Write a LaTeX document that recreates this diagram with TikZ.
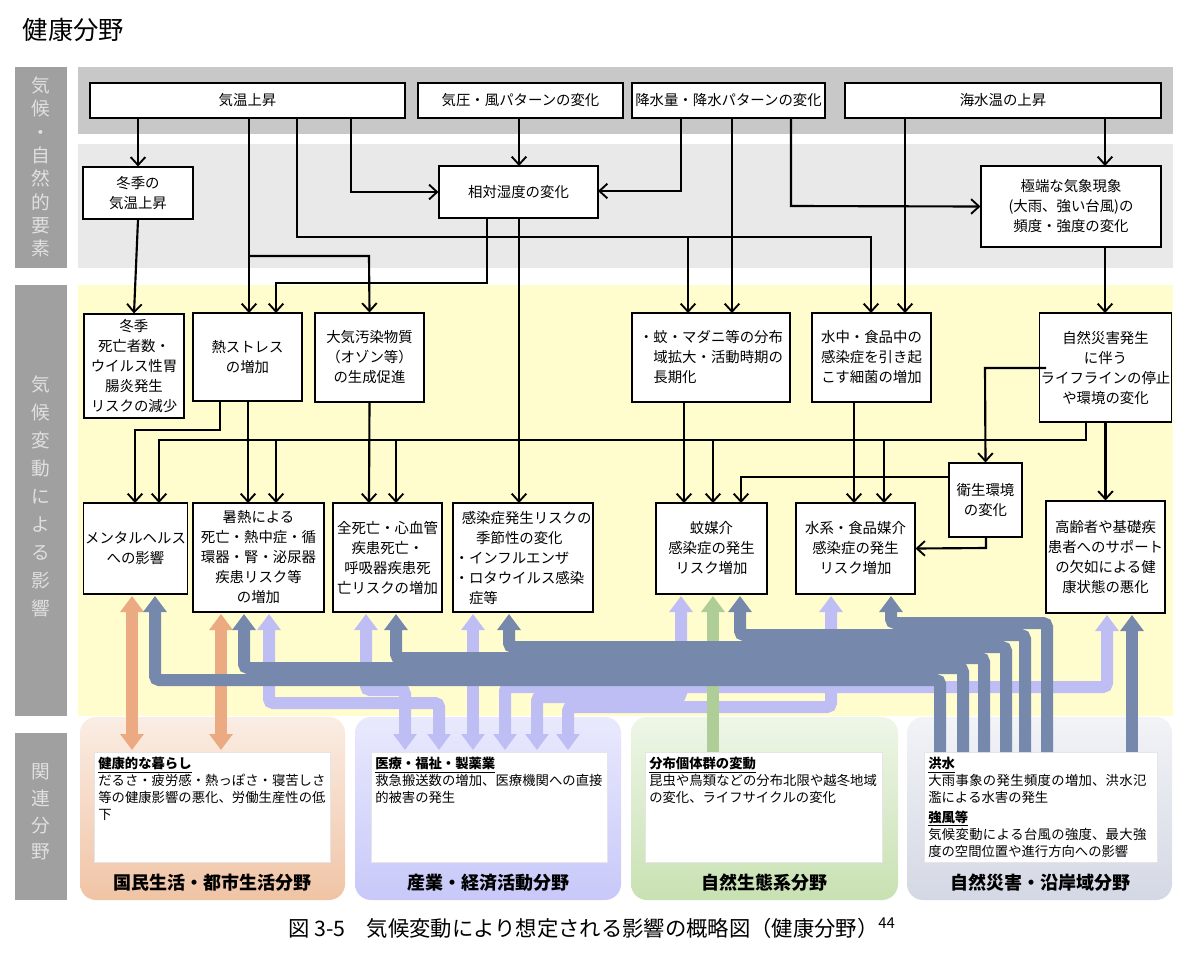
\documentclass[tikz,border=0pt]{standalone}
\usepackage{fontspec}
\setmainfont{Noto Sans CJK JP}
\XeTeXlinebreaklocale "ja"
\XeTeXlinebreakskip=0pt plus 1pt
\usetikzlibrary{arrows.meta}
\definecolor{bandA}{RGB}{200,200,200}
\definecolor{bandB}{RGB}{233,233,233}
\definecolor{bandY}{RGB}{255,252,205}
\definecolor{lab}{RGB}{160,160,160}
\definecolor{dk}{RGB}{118,136,172}
\definecolor{lt}{RGB}{190,190,245}
\definecolor{gr}{RGB}{175,205,150}
\definecolor{org}{RGB}{236,170,130}
\definecolor{pOrg}{RGB}{240,196,165}
\definecolor{pLav}{RGB}{200,200,250}
\definecolor{pGrn}{RGB}{200,225,178}
\definecolor{pGry}{RGB}{212,216,228}
\tikzset{
  bx/.style 2 args={draw, thick, fill=white, align=center, inner sep=1pt,
    minimum width=#1*0.75pt, minimum height=#2*0.75pt,
    font=\fontsize{10.8}{15}\selectfont},
  ar/.style={line width=1.6pt, -{Straight Barb[length=6pt,width=11pt,line width=1.4pt]}},
  wa/.style={line width=9pt, -{Triangle[width=17pt,length=12pt]}},
  wb/.style={line width=9pt, {Triangle[width=17pt,length=12pt]}-{Triangle[width=17pt,length=12pt]}},
  lbl/.style={text=white!88!black, align=center, font=\fontsize{14}{19}\selectfont},
  pan/.style={fill=white, draw=white!90!black},
  inner/.style={align=left, anchor=north west,
    text width=#1*0.75pt-6pt, inner sep=3pt, font=\fontsize{10}{12.8}\selectfont},
  ptitle/.style={font=\fontsize{13.5}{15}\selectfont\bfseries}
}
\begin{document}
\begin{tikzpicture}[x=0.75pt,y=-0.75pt]
\useasboundingbox (0,0) rectangle (1200,954);
% title
\node[anchor=west, font=\fontsize{19}{22}\selectfont] (ttl) at (18,30) {健康分野};
% bands
\fill[bandA] (78,67) rectangle (1173,134);
\fill[bandB] (78,144) rectangle (1173,268);
\fill[bandY] (78,285) rectangle (1173,716);
\fill[lab] (15,67) rectangle (67,268);
\fill[lab] (15,285) rectangle (67,716);
\fill[lab] (15,733) rectangle (67,900);
\node[lbl, font=\fontsize{14}{17.5}\selectfont] (l1) at (41,167) {気\\候\\・\\自\\然\\的\\要\\素};
\node[lbl, font=\fontsize{14}{21}\selectfont] (l2) at (41,496) {気\\候\\変\\動\\に\\よ\\る\\影\\響};
\node[lbl, font=\fontsize{14}{20}\selectfont] (l3) at (41,812) {関\\連\\分\\野};
% bottom panels
\shade[top color=pOrg!30, bottom color=pOrg, rounded corners=12pt] (80,717) rectangle (345,900);
\shade[top color=pLav!40, bottom color=pLav, rounded corners=12pt] (355,717) rectangle (621,900);
\shade[top color=pGrn!30, bottom color=pGrn, rounded corners=12pt] (631,717) rectangle (898,900);
\shade[top color=pGry!30, bottom color=pGry, rounded corners=12pt] (907,717) rectangle (1172,900);
\fill[pan] (94,752) rectangle (330,862);
\fill[pan] (371,752) rectangle (607,862);
\fill[pan] (645,752) rectangle (882,862);
\fill[pan] (924,752) rectangle (1157,862);
\node[inner=236] (p1) at (94,753)
  {\textbf{\underline{健康的な暮らし}}\\だるさ・疲労感・熱っぽさ・寝苦しさ等の健康影響の悪化、労働生産性の低下};
\node[inner=236] (p2) at (371,753)
  {\textbf{\underline{医療・福祉・製薬業}}\\救急搬送数の増加、医療機関への直接的被害の発生};
\node[inner=237] (p3) at (645,753)
  {\textbf{\underline{分布個体群の変動}}\\昆虫や鳥類などの分布北限や越冬地域の変化、ライフサイクルの変化};
\node[inner=233] (p4) at (924,753)
  {\textbf{\underline{洪水}}\\大雨事象の発生頻度の増加、洪水氾濫による水害の発生\\[2pt]\textbf{\underline{強風等}}\\気候変動による台風の強度、最大強度の空間位置や進行方向への影響};
\node[ptitle] (q1) at (212,883) {国民生活・都市生活分野};
\node[ptitle] (q2) at (488,883) {産業・経済活動分野};
\node[ptitle] (q3) at (764,883) {自然生態系分野};
\node[ptitle] (q4) at (1040,883) {自然災害・沿岸域分野};
% top row
\node[bx={315}{35}] (t1) at (247.5,100.5) {気温上昇};
\node[bx={205}{35}] (t2) at (520.5,100.5) {気圧・風パターンの変化};
\node[bx={193}{35}] (t3) at (728.5,100.5) {降水量・降水パターンの変化};
\node[bx={316}{35}] (t4) at (1003,100.5) {海水温の上昇};
\node[bx={110}{52}] (a) at (138,193) {冬季の\\気温上昇};
\node[bx={159}{52}] (b) at (518.5,192) {相対湿度の変化};
\node[bx={180}{81}] (c) at (1071,206.5) {極端な気象現象\\(大雨、強い台風)の\\頻度・強度の変化};
% second row
\node[bx={100}{104}] (win) at (134,366) {冬季\\死亡者数・\\ウイルス性胃\\腸炎発生\\リスクの減少};
\node[bx={109}{88}] (heat) at (247.5,357) {熱ストレス\\の増加};
\node[bx={109}{89}] (air) at (369.5,357.5) {大気汚染物質\\（オゾン等）\\の生成促進};
\node[bx={158}{89}, align=left] (mos) at (711,357.5) {・蚊・マダニ等の分布\\\hspace*{1em}域拡大・活動時期の\\\hspace*{1em}長期化};
\node[bx={119}{89}] (wat) at (871.5,357.5) {水中・食品中の\\感染症を引き起\\こす細菌の増加};
\node[bx={119}{109}] (dis) at (1105.5,367.5) {自然災害発生\\に伴う\\ライフラインの停止\\や環境の変化};
% third row
\node[bx={97}{91}] (men) at (135.5,548.5) {メンタルヘルス\\への影響};
\node[bx={131}{109}] (hot) at (258.5,557.5) {暑熱による\\死亡・熱中症・循\\環器・腎・泌尿器\\疾患リスク等\\の増加};
\node[bx={109}{109}] (dth) at (387.5,557.5) {全死亡・心血管\\疾患死亡・\\呼吸器疾患死\\亡リスクの増加};
\node[bx={140}{109}, align=left] (inf) at (523,557.5) {\hspace*{0.5em}感染症発生リスクの\\\hspace*{1.5em}季節性の変化\\・インフルエンザ\\・ロタウイルス感染\\\hspace*{1em}症等};
\node[bx={111}{91}] (mosr) at (711.5,548.5) {蚊媒介\\感染症の発生\\リスク増加};
\node[bx={119}{91}] (watr) at (855.5,548.5) {水系・食品媒介\\感染症の発生\\リスク増加};
\node[bx={73}{74}] (san) at (985.5,500) {衛生環境\\の変化};
\node[bx={119}{112}] (old) at (1105.5,557) {高齢者や基礎疾\\患者へのサポート\\の欠如による健\\康状態の悪化};
% wide arrows: light
\begin{scope}[rounded corners=3pt]
\draw[wb, lt] (366,614) -- (366,690) -- (405,690) -- (405,750);
\draw[wb, lt] (269,614) -- (269,703) -- (439,703) -- (439,750);
\draw[wb, lt] (473,614) -- (473,750);
\draw[wb, lt] (505,750) -- (505,687) -- (1107,687) -- (1107,615);
\draw[wb, lt] (537,750) -- (537,697) -- (681,697) -- (681,596);
\draw[wb, lt] (568,750) -- (568,707) -- (831,707) -- (831,596);
\draw[wa, gr] (713,752) -- (713,596);
\draw[wb, org] (132,596) -- (132,750);
\draw[wb, org] (221,614) -- (221,750);
% dark
\draw[wa, dk] (940,752) -- (940,680) -- (155,680) -- (155,596);
\draw[wa, dk] (963,752) -- (963,668) -- (244,668) -- (244,614);
\draw[wa, dk] (984,752) -- (984,658) -- (396,658) -- (396,614);
\draw[wa, dk] (1006,752) -- (1006,647) -- (509,647) -- (509,614);
\draw[wa, dk] (1025,752) -- (1025,635) -- (740,635) -- (740,596);
\draw[wa, dk] (1047,752) -- (1047,623) -- (891,623) -- (891,596);
\draw[wa, dk] (1132,752) -- (1132,615);
\end{scope}
% thin connectors
\draw[ar] (a.north |- t1.south) -- (a.north);
\draw[ar] (249,118) -- (249,313);
\draw[ar] (249,256) -- (369,256) -- (air.north);
\draw[ar] (297,118) -- (297,237) -- (871,237) -- (871,313);
\draw[ar] (688,237) -- (688,313);
\draw[ar] (351,118) -- (351,192) -- (b.west |- 0,192);
\draw[ar] (519,118) -- (519,166);
\draw[ar] (487,218) -- (487,283) -- (276,283) -- (276,313);
\draw[ar] (519,218) -- (519,503);
\draw[ar] (681,118) -- (681,191) -- (598,191);
\draw[ar] (732,118) -- (732,313);
\draw[ar] (791,118) -- (791,206) -- (c.west);
\draw[ar] (905,118) -- (905,313);
\draw[ar] (1105,118) -- (1105,166);
\draw[ar] (1105,247) -- (1105,313);
\draw[ar] (a.south) -- (win.north);
% row 2 -> row 3
\draw[ar] (220,401) -- (220,430) -- (135,430) -- (135,503);
\draw[ar] (248,401) -- (248,503);
\draw[ar] (1086,422) -- (1086,440) -- (159,440) -- (159,503);
\draw[ar] (276,440) -- (276,503);
\draw[ar] (396,440) -- (396,503);
\draw[ar] (713,440) -- (713,503);
\draw[ar] (884,440) -- (884,503);
\draw[ar] (air.south) -- (369,503);
\draw[ar] (684,402) -- (684,503);
\draw[ar] (854,402) -- (854,503);
\draw[ar] (1046,368) -- (985,368) -- (san.north);
\draw[ar] (san.west |- 0,477) -- (741,477) -- (741,503);
\draw[ar] (986,537) -- (986,548) -- (watr.east);
\draw[ar] (dis.south) -- (old.north);
% caption
\node[font=\fontsize{16}{19}\selectfont] (cap) at (592,928) {図 3-5\quad 気候変動により想定される影響の概略図（健康分野）\textsuperscript{44}};
\end{tikzpicture}
\end{document}
